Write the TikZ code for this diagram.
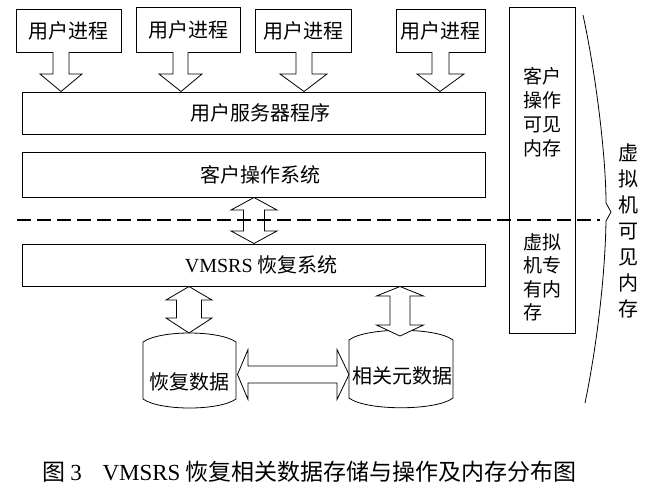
\documentclass[tikz,border=0pt]{standalone}
\usepackage{fontspec}
\setmainfont{Liberation Serif}
\newfontfamily\cjk{Noto Sans CJK SC}
\begin{document}
\begin{tikzpicture}[x=1pt,y=-1pt,
  box/.style={draw, line width=0.8pt, inner sep=0pt, fill=white,
    font=\cjk\fontsize{20}{24}\selectfont},
  lbl/.style={inner sep=0pt, font=\cjk\fontsize{20}{24}\selectfont},
  barrow/.style={draw, fill=white, line width=0.8pt, line join=miter},
  outline/.style={draw, line width=0.8pt}]
\useasboundingbox (0,0) rectangle (656,491);
\fill[white] (0,0) rectangle (656,491);

% user processes
\node[box, minimum width=105pt, minimum height=43pt] (p1) at (68.5,30.5) {用户进程};
\node[box, minimum width=104pt, minimum height=45pt] (p2) at (188,29.5) {用户进程};
\node[box, minimum width=96pt, minimum height=43pt] (p3) at (303,30.5) {用户进程};
\node[box, minimum width=89pt, minimum height=43pt] (p4) at (440.5,30.5) {用户进程};

% layers
\node[box, minimum width=463pt, minimum height=42pt] (srv) at (253.5,113) {};
\node[lbl] (srvt) at (260,113) {用户服务器程序};
\node[box, minimum width=463pt, minimum height=45pt] (os) at (253.5,174.5) {};
\node[lbl] (ost) at (260,174.5) {客户操作系统};
\node[box, minimum width=463pt, minimum height=42pt] (vm) at (253.5,265) {};
\node[lbl] (vmt) at (261,265) {{\rmfamily VMSRS} 恢复系统};

% memory column
\node[box, minimum width=66pt, minimum height=326pt] (mem) at (542,170) {};
\node[inner sep=0pt, align=left, font=\cjk\fontsize{19}{24}\selectfont] (memA) at (542,112.5) {客户\\操作\\可见\\内存};
\node[inner sep=0pt, align=left, font=\cjk\fontsize{19}{23.5}\selectfont] (memB) at (542,277.5) {虚拟\\机专\\有内\\存};

% down arrows
\path[barrow] (53,52) -- (53,74) -- (40,74) -- (61,91.5) -- (82,74) -- (69,74) -- (69,52);
\path[barrow] (173,52) -- (173,74) -- (159,74) -- (181,91.5) -- (202,74) -- (188,74) -- (188,52);
\path[barrow] (296,52) -- (296,74) -- (280,74) -- (304,91.5) -- (327,74) -- (312,74) -- (312,52);
\path[barrow] (432,52) -- (432,74) -- (417,74) -- (440,91.5) -- (464,74) -- (449,74) -- (449,52);

% double arrow OS <-> VMSRS
\path[barrow] (254,197.5) -- (277,210) -- (264.5,210) -- (264.5,231) -- (277,231) -- (254,243.5)
  -- (231,231) -- (243.5,231) -- (243.5,210) -- (231,210) -- cycle;

% cylinders
\path[outline, fill=white] (143,342) .. controls (160,330) and (219,330) .. (236,342) -- (236,399)
  .. controls (219,411) and (160,411) .. (143,399) -- cycle;
\node[lbl] (rd) at (189,382) {恢复数据};
\path[outline, fill=white] (349,340) .. controls (366,327) and (436,327) .. (453,340) -- (453,398)
  .. controls (436,411) and (366,411) .. (349,398) -- cycle;
\node[lbl] (md) at (402,376) {相关元数据};

% double arrows VMSRS <-> data
\path[barrow] (189,286.5) -- (212,300) -- (201.5,300) -- (201.5,318) -- (212,318) -- (189,333)
  -- (166,318) -- (176.5,318) -- (176.5,300) -- (166,300) -- cycle;
\path[barrow] (400,286.5) -- (423.5,296) -- (410,296) -- (410,325) -- (423.5,325) -- (400,336)
  -- (376.5,325) -- (390,325) -- (390,296) -- (376.5,296) -- cycle;

% horizontal double arrow
\path[barrow] (237.5,374.5) -- (248,349.5) -- (248,366) -- (337,366) -- (337,349.5) -- (349,374.5)
  -- (337,399.5) -- (337,383) -- (248,383) -- (248,399.5) -- cycle;

% dashed boundary
\coordinate (dl) at (17,220);
\coordinate (dr) at (600,220);
\draw[line width=2.2pt, dash pattern=on 14pt off 6pt] (dl) -- (dr);

% brace
\coordinate (bt) at (583,15);
\coordinate (bb) at (585,403);
\draw[line width=0.8pt] (bt) .. controls (597,80) and (606,160) .. (606,203) -- (611,212) -- (606,221)
  .. controls (605,280) and (596,350) .. (bb);
\node[inner sep=0pt, align=center, font=\cjk\fontsize{20}{26}\selectfont] (vis) at (628,231)
  {虚\\拟\\机\\可\\见\\内\\存};

% caption
\node[inner sep=0pt, anchor=west, font=\cjk\fontsize{23}{27}\selectfont] (cap) at (42,472)
  {图 {\rmfamily 3}\hspace{0.9em}{\rmfamily VMSRS} 恢复相关数据存储与操作及内存分布图};
\end{tikzpicture}
\end{document}
